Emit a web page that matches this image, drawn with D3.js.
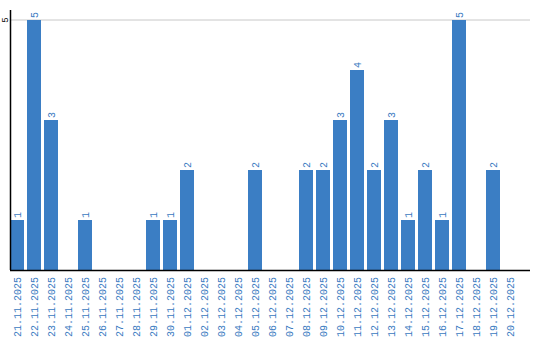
<!DOCTYPE html>
<html>
<head>
<meta charset="utf-8">
<script src="https://cdn.jsdelivr.net/npm/d3@7"></script>
<style>
  body { margin: 0; background: #fff; }
  text { font-family: "Liberation Mono", "DejaVu Sans Mono", monospace; }
</style>
</head>
<body>
<script>
// one count per day
var days = ["21.11.2025", "22.11.2025", "23.11.2025", "24.11.2025", "25.11.2025",
    "26.11.2025", "27.11.2025", "28.11.2025", "29.11.2025", "30.11.2025",
    "01.12.2025", "02.12.2025", "03.12.2025", "04.12.2025", "05.12.2025",
    "06.12.2025", "07.12.2025", "08.12.2025", "09.12.2025", "10.12.2025",
    "11.12.2025", "12.12.2025", "13.12.2025", "14.12.2025", "15.12.2025",
    "16.12.2025", "17.12.2025", "18.12.2025", "19.12.2025", "20.12.2025"];
var counts = [1, 5, 3, 0, 1, 0, 0, 0, 1, 1,
    2, 0, 0, 0, 2, 0, 0, 2, 2, 3,
    4, 2, 3, 1, 2, 1, 5, 0, 2, 0];
var yTicks = [5];

var barColor = "#3b7ec4";
var textColor = "#3a7abf";

var svg = d3.select("body").append("svg")
    .attr("width", 540)
    .attr("height", 340);

var x = d3.scaleBand()
    .domain(days)
    .range([10, 520])
    .paddingInner(3 / 17)
    .paddingOuter(1.5 / 17)
    .align(0);

var y = d3.scaleLinear()
    .domain([0, 5])
    .range([270, 20]);

var rows = days.map(function(d, i) { return { day: d, count: counts[i] }; });

// grid line at the top tick
svg.selectAll(".grid")
    .data(yTicks)
    .enter().append("line")
    .attr("x1", 10)
    .attr("x2", 530)
    .attr("y1", function(d) { return y(d); })
    .attr("y2", function(d) { return y(d); })
    .attr("stroke", "#c8c8c8")
    .attr("stroke-width", 1);

svg.selectAll(".bar")
    .data(rows)
    .enter().append("rect")
    .attr("x", function(d) { return x(d.day); })
    .attr("y", function(d) { return y(d.count); })
    .attr("width", x.bandwidth())
    .attr("height", function(d) { return y(0) - y(d.count); })
    .attr("fill", barColor);

// value labels, rotated
svg.selectAll(".val")
    .data(rows.filter(function(d) { return d.count > 0; }))
    .enter().append("text")
    .attr("transform", function(d) {
        return "translate(" + (x(d.day) + x.bandwidth() / 2) + "," + (y(d.count) - 2) + ") rotate(-90)";
    })
    .attr("dy", "0.35em")
    .attr("font-size", 10)
    .attr("fill", textColor)
    .text(function(d) { return d.count; });

// y axis
svg.append("line")
    .attr("x1", 10.5).attr("x2", 10.5)
    .attr("y1", 10).attr("y2", 270)
    .attr("stroke", "#000")
    .attr("stroke-width", 1.5);

svg.selectAll(".ytick")
    .data(yTicks)
    .enter().append("text")
    .attr("transform", function(d) { return "translate(5," + y(d) + ") rotate(-90)"; })
    .attr("text-anchor", "middle")
    .attr("dy", "0.35em")
    .attr("font-size", 9)
    .attr("fill", "#000")
    .text(function(d) { return d; });

// x axis baseline
svg.append("line")
    .attr("x1", 10).attr("x2", 530)
    .attr("y1", 270.5).attr("y2", 270.5)
    .attr("stroke", "#000")
    .attr("stroke-width", 1.5);

svg.selectAll(".xlab")
    .data(days)
    .enter().append("text")
    .attr("transform", function(d) {
        return "translate(" + (x(d) + x.bandwidth() / 2) + ",277) rotate(-90)";
    })
    .attr("text-anchor", "end")
    .attr("dy", "0.35em")
    .attr("font-size", 10)
    .attr("fill", textColor)
    .text(function(d) { return d; });
</script>
</body>
</html>
